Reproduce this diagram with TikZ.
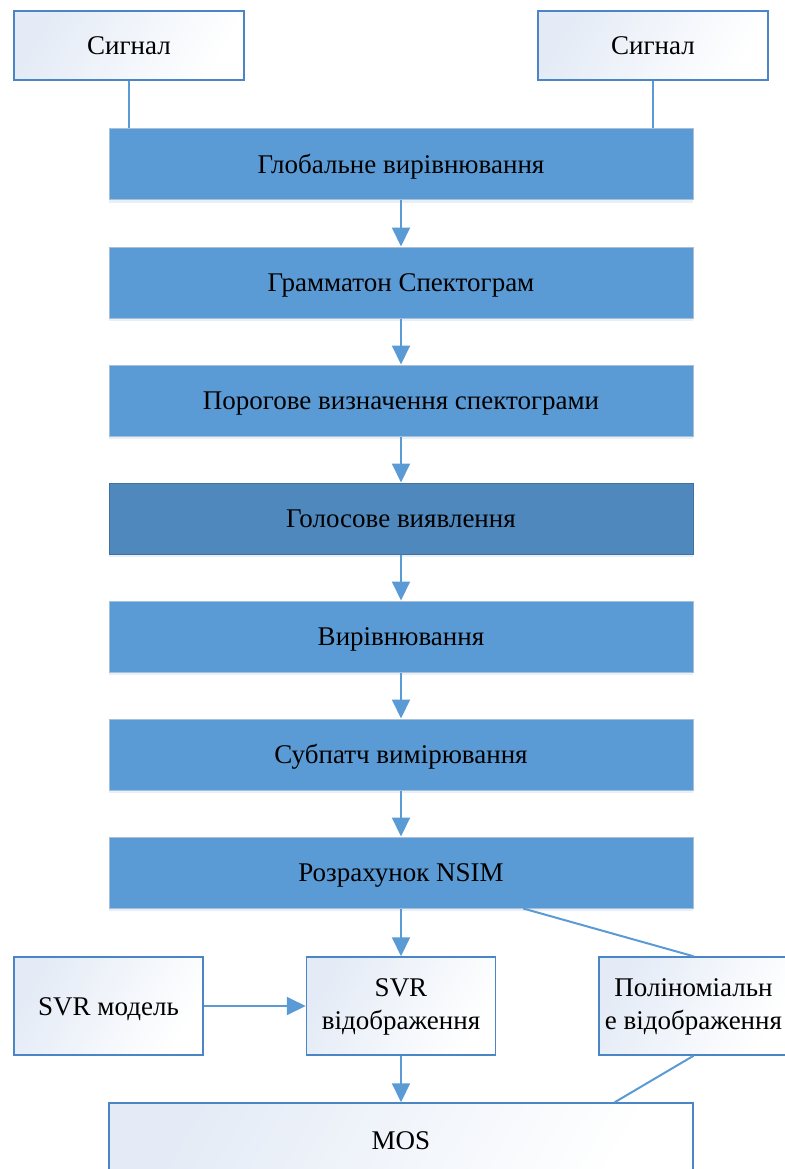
\documentclass[tikz,border=0pt]{standalone}
\usepackage{fontspec}
\setmainfont{Liberation Serif}
\usetikzlibrary{arrows.meta,shadows,calc}
\definecolor{obl}{HTML}{5B9BD5}
\definecolor{obldk}{HTML}{4E88BC}
\definecolor{oblbd}{HTML}{41719C}
\definecolor{bbd}{HTML}{A9BFD6}
\definecolor{wbd}{HTML}{4A86C6}
\definecolor{wgr}{HTML}{E4EBF6}
\newcommand{\twolines}[2]{\raisebox{-5pt}{\begin{tabular}{@{}c@{}}#1\\#2\end{tabular}}}
\tikzset{
  x=1pt,y=-1pt,
  every node/.style={font=\fontsize{27}{33}\selectfont, text=black, align=center, inner sep=0pt},
  oneline/.style={text height=18pt, text depth=0pt},
  bluebox/.style={oneline, fill=obl, draw=bbd, line width=1pt, minimum width=584pt, minimum height=71pt,
    drop shadow={shadow xshift=0pt, shadow yshift=-3pt, opacity=0.15, fill=obl}},
  darkbox/.style={bluebox, fill=obldk, draw=oblbd},
  whitebox/.style={draw=wbd, line width=1.5pt, left color=wgr, right color=white, shading angle=60},
  smallbox/.style={whitebox, minimum width=189pt, minimum height=98pt},
  conn/.style={draw=obl, line width=2pt},
  arr/.style={conn, -{Triangle[length=19pt,width=18pt]}},
}
\begin{document}
\begin{tikzpicture}
\useasboundingbox (0,0) rectangle (784,1169);
\node[whitebox, oneline, minimum width=230pt, minimum height=69pt] (sig1) at (129,45.5) {Сигнал};
\node[whitebox, oneline, minimum width=230pt, minimum height=69pt] (sig2) at (653,45.5) {Сигнал};
\node[bluebox] (glob) at (401,164.3) {Глобальне вирівнювання};
\node[bluebox] (gram) at (401,282.5) {Грамматон Спектограм};
\node[bluebox] (por) at (401,400.5) {Порогове визначення спектограми};
\node[darkbox] (gol) at (401,518.5) {Голосове виявлення};
\node[bluebox] (vyr) at (401,636.5) {Вирівнювання};
\node[bluebox] (sub) at (401,754.5) {Субпатч вимірювання};
\node[bluebox] (nsim) at (401,872.5) {Розрахунок NSIM};
\node[smallbox, oneline] (svrm) at (108.5,1006) {SVR модель};
\node[smallbox] (svr) at (401,1006) {\twolines{SVR}{відображення}};
\node[smallbox] (poly) at (693.5,1006) {\twolines{Поліноміальн}{е відображення}};
\node[whitebox, oneline, minimum width=584pt, minimum height=74pt] (mos) at (401,1140) {MOS};
\draw[conn] (sig1.south) -- (sig1.south |- glob.north);
\draw[conn] (sig2.south) -- (sig2.south |- glob.north);
\draw[arr] (glob) -- (gram);
\draw[arr] (gram) -- (por);
\draw[arr] (por) -- (gol);
\draw[arr] (gol) -- (vyr);
\draw[arr] (vyr) -- (sub);
\draw[arr] (sub) -- (nsim);
\draw[arr] (nsim.south -| svr.north) -- (svr.north);
\draw[arr] (svrm) -- (svr);
\draw[arr] (svr.south) -- (svr.south |- mos.north);
\draw[conn] ($(nsim.south west)!0.709!(nsim.south east)$) -- (poly.north);
\draw[conn] (poly.south) -- ($(mos.north west)!0.865!(mos.north east)$);
\end{tikzpicture}
\end{document}
